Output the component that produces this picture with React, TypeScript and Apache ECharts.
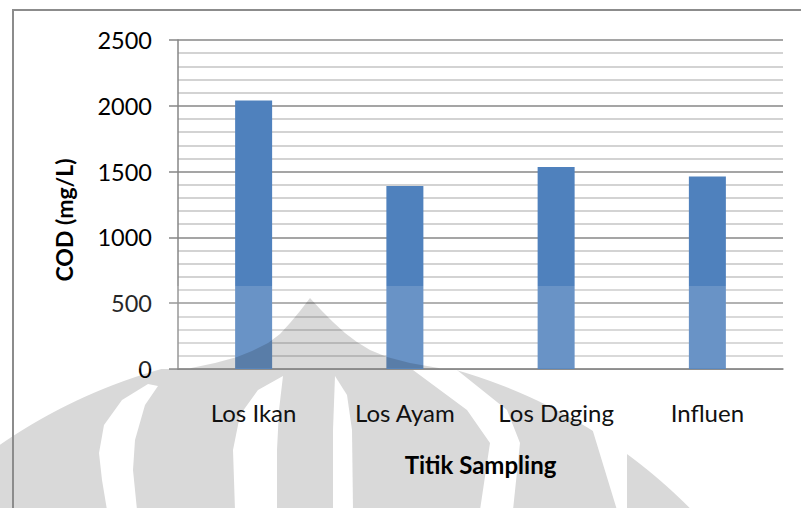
import React, { useEffect, useRef } from "react";
import * as echarts from "echarts";

const categories: string[] = ["Los Ikan", "Los Ayam", "Los Daging", "Influen"];
const codValues: number[] = [2040, 1390, 1535, 1462];
const yMin = 0;
const yMax = 2500;
const yInterval = 500;
const yAxisTitle = "COD (mg/L)";
const xAxisTitle = "Titik Sampling";

const FONT = "Lato, 'Open Sans', sans-serif";

function circlePoints(): number[][] {
  const cx = 307, cy = 889, r = 540;
  const left: number[][] = [];
  const right: number[][] = [];
  for (let y = 369; y <= 520; y += 4) {
    const dx = Math.sqrt(r * r - (cy - y) * (cy - y));
    left.push([cx - dx, y]);
    right.push([cx + dx, y]);
  }
  return [...right, ...left.reverse()];
}

export default function App() {
  const ref = useRef<HTMLDivElement>(null);
  useEffect(() => {
    if (!ref.current) return;
    const chart = echarts.init(ref.current, null, { renderer: "svg" });
    const gray = "#d9d9d9";
    const white = "#ffffff";
    const option: any = {
      animation: false,
      backgroundColor: "#ffffff",
      grid: { left: 178, right: 18, top: 40, bottom: 139, containLabel: false },
      xAxis: {
        type: "category",
        data: categories,
        axisLine: { show: true, lineStyle: { color: "#868686", width: 1.5 } },
        axisTick: { show: false },
        axisLabel: { fontFamily: FONT, fontSize: 24, color: "#111", margin: 31 },
        name: xAxisTitle,
        nameLocation: "middle",
        nameGap: 83,
        nameTextStyle: { fontFamily: FONT, fontSize: 24, fontWeight: "bold", color: "#000" },
      },
      yAxis: {
        type: "value",
        min: yMin,
        max: yMax,
        interval: yInterval,
        axisLine: { show: true, lineStyle: { color: "#868686", width: 1.5 } },
        axisTick: { show: true, length: 9, lineStyle: { color: "#868686", width: 1.5 } },
        axisLabel: {
          fontFamily: FONT, fontSize: 23.5, color: "#000", margin: 26,
          formatter: (v: number) => String(v),
        },
        splitLine: { show: true, lineStyle: { color: "#878787", width: 1.5 } },
        minorTick: { show: false, splitNumber: 5 },
        minorSplitLine: { show: true, lineStyle: { color: "#c4c4c4", width: 1.5 } },
      },
      series: [
        {
          type: "bar",
          data: codValues,
          barWidth: 37,
          itemStyle: { color: "#4f81bd" },
        },
      ],
      graphic: [
        { type: "polygon", z: -10, silent: true, shape: { points: circlePoints() }, style: { fill: gray } },
        {
          type: "polygon", z: -9, silent: true,
          shape: { points: [[148, 384], [122, 400], [104, 425], [99, 453], [102, 480], [107, 510], [137, 510], [133, 470], [135, 440], [145, 405], [158, 386]] },
          style: { fill: white },
        },
        {
          type: "polygon", z: -9, silent: true,
          shape: { points: [[283, 376], [258, 390], [240, 415], [233, 450], [235, 510], [277, 510], [277, 450], [279, 410]] },
          style: { fill: white },
        },
        {
          type: "polygon", z: -9, silent: true,
          shape: { points: [[335, 376], [347, 395], [352, 430], [353, 510], [333, 510], [333, 430]] },
          style: { fill: white },
        },
        {
          type: "polygon", z: -9, silent: true,
          shape: { points: [[413, 370], [457, 370], [507, 410], [520, 443], [513, 510], [480, 510], [490, 443], [467, 410]] },
          style: { fill: white },
        },
        {
          type: "polygon", z: -9, silent: true,
          shape: { points: [[588, 415], [645, 415], [627, 445], [627, 510], [617, 510]] },
          style: { fill: white },
        },
        {
          type: "rect", z: 100, silent: true,
          shape: { x: 0, y: 286, width: 801, height: 82.5 },
          style: { fill: "rgba(255,255,255,0.15)" },
        },
        {
          type: "polygon", z: 101, silent: true,
          shape: {
            points: [[310, 298], [300, 311], [290, 323], [280, 334], [268, 343], [252, 351], [237, 357], [215, 363], [190, 368.3],
              [440, 368.3], [410, 363], [387, 357], [370, 350], [357, 342], [345, 333], [333, 322], [321, 310]],
          },
          style: { fill: "rgba(0,0,0,0.15)" },
        },
        {
          type: "text", z: 102, silent: true,
          x: 64, y: 220, rotation: Math.PI / 2,
          style: {
            text: yAxisTitle, fontFamily: FONT, fontSize: 23, fontWeight: "bold", fill: "#000",
            align: "center", verticalAlign: "middle",
          },
        },
        {
          type: "rect", z: 103, silent: true,
          shape: { x: 13, y: 10, width: 820, height: 600 },
          style: { fill: "none", stroke: "#8c8c8c", lineWidth: 2 },
        },
      ],
    };
    chart.setOption(option);
    return () => chart.dispose();
  }, []);
  return <div ref={ref} style={{ position: "fixed", left: 0, top: 0, width: 801, height: 508 }} />;
}
